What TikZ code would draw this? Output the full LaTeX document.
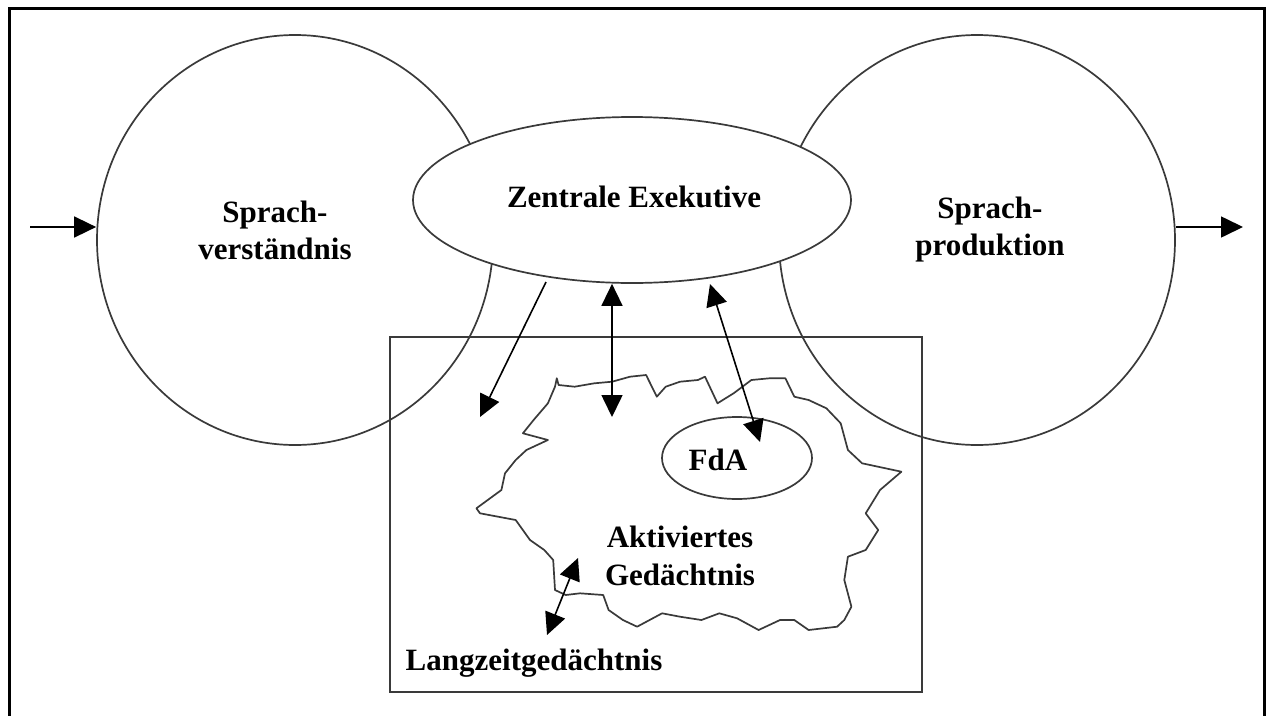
\documentclass[tikz,border=0pt]{standalone}
\usepackage{fontspec}
\setmainfont{Liberation Serif}
\usetikzlibrary{arrows.meta,shapes.geometric}
\definecolor{linegrey}{HTML}{3A3A3A}
\begin{document}
\begin{tikzpicture}[x=1pt,y=-1pt,
  shapeline/.style={draw=linegrey, line width=1.7pt},
  lbl/.style={font=\fontsize{31}{37}\selectfont\bfseries, align=center, inner sep=0pt},
  tip/.tip={Triangle[length=22pt,width=21pt]},
  arr/.style={line width=1.6pt, -tip},
  darr/.style={line width=1.6pt, tip-tip}]
\useasboundingbox (0,0) rectangle (1266,715);
\fill[white] (0,0) rectangle (1266,715);
% frame
\draw[line width=3pt] (9.5,716) -- (9.5,8.5) -- (1264.5,8.5) -- (1264.5,716);
% big circles
\node[shapeline, ellipse, minimum width=396pt, minimum height=410pt, inner sep=0pt] (sv) at (295,240) {};
\node[shapeline, ellipse, minimum width=396pt, minimum height=410pt, inner sep=0pt] (sp) at (977,240) {};
% long-term memory box
\node[shapeline, rectangle, minimum width=532pt, minimum height=355pt, inner sep=0pt] (ltm) at (656,514.5) {};
% activated memory cloud
\filldraw[fill=white, draw=linegrey, line width=1.7pt, line join=round]
  plot coordinates {(556.8,378.3) (558.6,385) (574.6,386.7) (594.3,383.3) (612.1,381.7) (630,376.7)
  (646.1,375) (656.8,396.7) (665.7,386.7) (680,381.7) (697.9,380) (705,376.7) (717.5,403.3)
  (733.6,393.3) (751.4,380) (769.3,378.3) (785.4,378.3) (794.3,396.7) (808.6,400) (826.4,408.3)
  (840.7,423.3) (847.9,450) (862.1,463.3) (901.4,471.7) (880,490) (865.7,513.3) (878.2,530)
  (865.7,550) (847.9,556.7) (844.3,580) (851.4,606.7) (844.3,620) (837.1,626.7) (808.6,630)
  (794.3,620) (780,620) (758.6,630) (737.1,618.3) (719.3,613.3) (701.4,620) (680,616.7)
  (662.1,613.3) (637.1,626.7) (622.9,620) (608.6,610) (603.2,595) (580,593.3) (565.7,595)
  (555,590) (553.2,560) (544.3,550) (530,540) (515.7,520) (480,513.3) (476.4,508.3)
  (501.4,490) (505,473.3) (515.7,460) (526.4,450) (547.9,440) (522.9,433.3) (533.6,420)
  (547.9,403.3) (555,386.7)} -- cycle;
% central executive
\node[shapeline, fill=white, ellipse, minimum width=438pt, minimum height=166pt, inner sep=0pt] (ce) at (632,200) {};
% FdA
\node[shapeline, fill=white, ellipse, minimum width=150pt, minimum height=82pt, inner sep=0pt] (fda) at (737,458) {};
% labels
\node[lbl] (tsv) at (275,230) {Sprach-\\verständnis};
\node[lbl] (tsp) at (990,230) {Sprach-\\produktion};
\node[lbl] (tce) at (634,197) {Zentrale Exekutive};
\node[lbl] (tfda) at (718,460) {FdA};
\node[lbl, font=\fontsize{31}{38}\selectfont\bfseries] (tag) at (680,556) {Aktiviertes\\Gedächtnis};
\node[lbl] (tltm) at (534,663) {Langzeitgedächtnis};
% arrow end points
\coordinate (in0) at (30,227);
\coordinate (out1) at (1243,227);
\coordinate (a1s) at (546,282);
\coordinate (a1e) at (480,417);
\coordinate (a2e) at (612,417);
\coordinate (a3s) at (710,284);
\coordinate (a3e) at (760,442);
\coordinate (a4s) at (578,558);
\coordinate (a4e) at (547,635);
% arrows
\draw[arr] (in0) -- (sv.west |- in0);
\draw[arr] (sp.east |- out1) -- (out1);
\draw[arr] (a1s) -- (a1e);
\draw[darr] (ce.south -| a2e) -- (a2e);
\draw[darr] (a3s) -- (a3e);
\draw[darr] (a4s) -- (a4e);
\end{tikzpicture}
\end{document}
